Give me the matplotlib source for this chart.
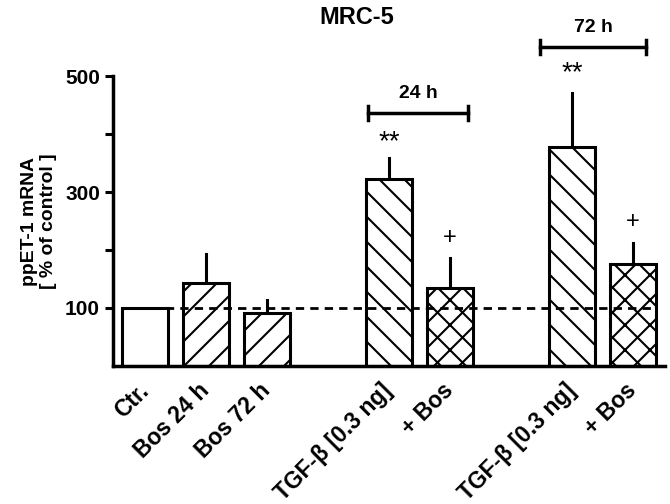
import numpy as np
import matplotlib
matplotlib.use('Agg')
from matplotlib import pyplot as plt

# Rendered at 75 dpi so the hatch cell (one inch) is 75 px -> hatch spacing
# close to the original; every point size is scaled by S to compensate.
DPI = 75
S = 100 / DPI

plt.rcParams['font.family'] = ['Liberation Sans', 'DejaVu Sans']
plt.rcParams['font.weight'] = 'bold'
plt.rcParams['hatch.linewidth'] = 1.5 * S

labels = ['Ctr.', 'Bos 24 h', 'Bos 72 h', 'TGF-β [0.3 ng]', '+ Bos', 'TGF-β [0.3 ng]', '+ Bos']
positions = [0, 1, 2, 4, 5, 7, 8]
means = [100, 143, 91, 322, 134, 378, 176]
errors = [0, 50, 23, 37, 52, 93, 36]
hatches = ['', '/', '/', '\\', 'x', '\\', 'x']

# group brackets: (start, end, y, label)
brackets = [(3.66, 5.3, 436, '24 h'), (6.48, 8.22, 550, '72 h')]
# significance marks: (x, y, text)
marks = [(4, 386, '**'), (7, 505, '**'), (5, 221, '+'), (8, 248, '+')]

fig = plt.figure(figsize=(670 / DPI, 504 / DPI), dpi=DPI)
ax = fig.add_axes([0.169, 0.274, 0.824, 0.575])

for x, m, e, h in zip(positions, means, errors, hatches):
    ax.bar(x, m, width=0.74, facecolor='white', edgecolor='black', linewidth=2.2 * S, hatch=h, zorder=2)
    if e > 0:
        ax.plot([x, x], [m, m + e], color='black', linewidth=2.2 * S, zorder=1)

ax.hlines(100, -0.37, 8.37, colors='black', linestyles=(0, (3, 2.2)), linewidth=2 * S, zorder=3)

for x0, x1, y, txt in brackets:
    ax.plot([x0, x1], [y, y], color='black', linewidth=2.5 * S, clip_on=False)
    for xx in (x0, x1):
        ax.plot([xx, xx], [y - 12, y + 12], color='black', linewidth=2.5 * S, clip_on=False)
    ax.text((x0 + x1) / 2, y + 20, txt, ha='center', va='bottom', fontsize=14 * S, fontweight='bold')

for x, y, txt in marks:
    size = 20 if txt == '**' else 17
    ax.text(x, y, txt, ha='center', va='center', fontsize=size * S, fontweight='normal', clip_on=False)

ax.set_xlim(-0.52, 8.53)
ax.set_ylim(0, 500)
ax.set_yticks([100, 300, 500])
ax.set_yticks([200, 400], minor=True)
ax.set_xticks(positions)
ax.set_xticklabels(labels, rotation=45, ha='right', va='center', rotation_mode='anchor',
                   fontsize=16.5 * S, fontweight='bold')
ax.tick_params(axis='y', labelsize=15 * S, width=2.2 * S, length=6 * S, pad=3.5 * S, direction='out')
ax.tick_params(axis='y', which='minor', width=2.2 * S, length=6 * S)
ax.tick_params(axis='x', length=0, pad=15.5 * S)
for lbl in ax.get_yticklabels():
    lbl.set_fontweight('bold')

ax.spines['top'].set_visible(False)
ax.spines['right'].set_visible(False)
ax.spines['left'].set_linewidth(2.5 * S)
ax.spines['bottom'].set_linewidth(2.5 * S)

ax.set_ylabel('ppET-1 mRNA\n[ % of control ]', fontsize=14 * S, fontweight='bold', labelpad=6 * S, linespacing=1.15)
fig.text(0.532, 0.965, 'MRC-5', ha='center', va='center', fontsize=17 * S, fontweight='bold')

fig.savefig('out.png', dpi=DPI)
